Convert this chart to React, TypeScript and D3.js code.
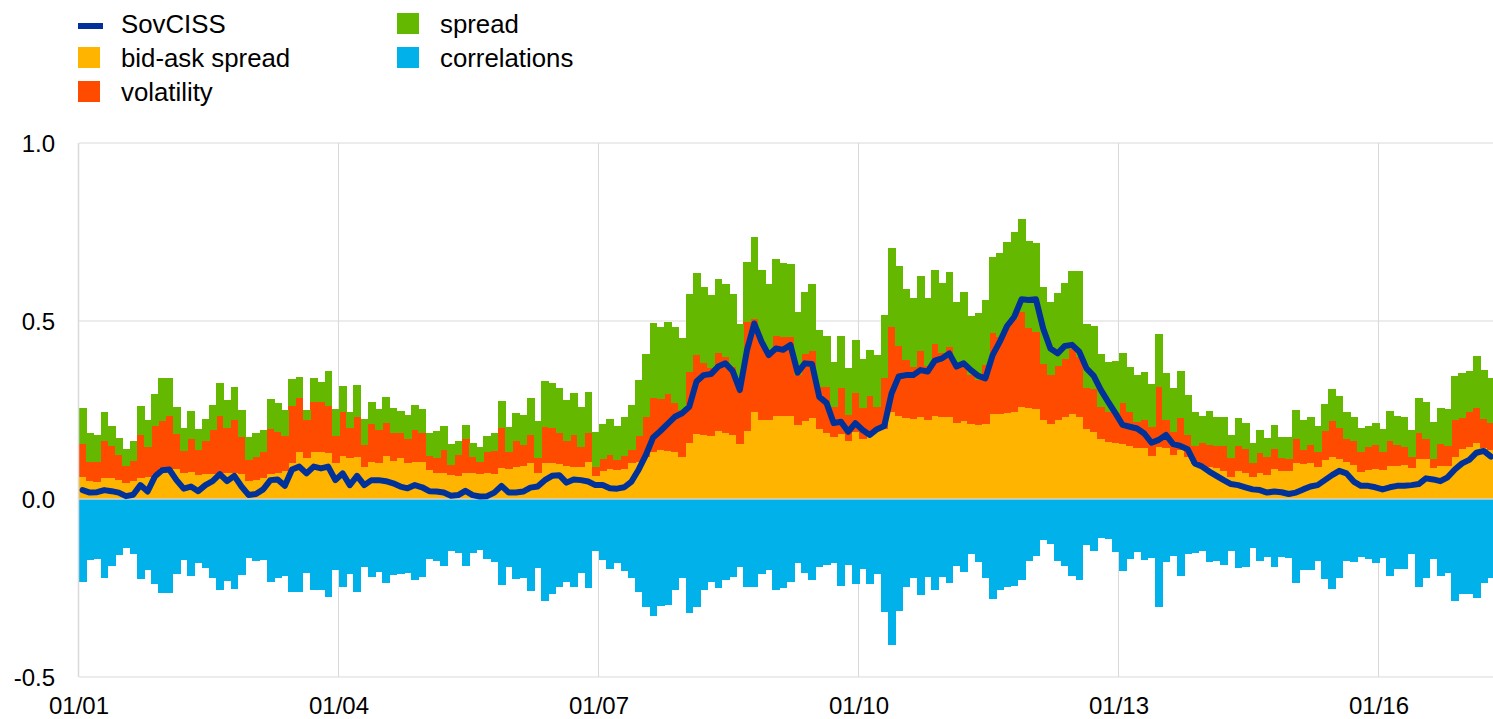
import React from "react";
import * as d3 from "d3";

// x-axis ticks (month index from Jan 2001) and labels
const tickMonths = [0, 36, 72, 108, 144, 180];
const tickLabels = ["01/01", "01/04", "01/07", "01/10", "01/13", "01/16"];
const yTicks = [-0.5, 0, 0.5, 1.0];
const yTickLabels = ["-0.5", "0.0", "0.5", "1.0"];

// monthly series, Jan 2001 - Apr 2017
const bidAsk = [
  0.061, 0.05, 0.049, 0.06, 0.06, 0.053, 0.046, 0.05, 0.058, 0.063, 0.071, 0.086,
  0.083, 0.083, 0.072, 0.077, 0.067, 0.069, 0.07, 0.074, 0.074, 0.072, 0.07, 0.05,
  0.053, 0.058, 0.07, 0.074, 0.079, 0.1, 0.133, 0.116, 0.133, 0.133, 0.128, 0.1,
  0.122, 0.114, 0.117, 0.091, 0.104, 0.1, 0.122, 0.108, 0.114, 0.1, 0.103, 0.103,
  0.081, 0.072, 0.074, 0.067, 0.066, 0.074, 0.072, 0.069, 0.072, 0.07, 0.086, 0.083,
  0.091, 0.093, 0.1, 0.072, 0.1, 0.1, 0.097, 0.094, 0.091, 0.091, 0.105, 0.065,
  0.079, 0.083, 0.081, 0.084, 0.1, 0.105, 0.119, 0.133, 0.138, 0.136, 0.133, 0.117,
  0.158, 0.183, 0.18, 0.178, 0.191, 0.186, 0.18, 0.154, 0.191, 0.243, 0.222, 0.222,
  0.233, 0.233, 0.233, 0.208, 0.22, 0.227, 0.198, 0.186, 0.173, 0.182, 0.164, 0.187,
  0.168, 0.192, 0.194, 0.196, 0.245, 0.233, 0.227, 0.224, 0.231, 0.222, 0.234, 0.231,
  0.229, 0.214, 0.218, 0.21, 0.208, 0.21, 0.238, 0.238, 0.241, 0.245, 0.259, 0.257,
  0.252, 0.222, 0.211, 0.222, 0.229, 0.238, 0.231, 0.196, 0.189, 0.168, 0.161, 0.156,
  0.154, 0.15, 0.142, 0.142, 0.121, 0.147, 0.142, 0.125, 0.138, 0.119, 0.097, 0.086,
  0.091, 0.086, 0.08, 0.063, 0.08, 0.072, 0.063, 0.074, 0.067, 0.083, 0.079, 0.079,
  0.102, 0.098, 0.1, 0.091, 0.11, 0.119, 0.112, 0.105, 0.096, 0.077, 0.081, 0.083,
  0.081, 0.093, 0.094, 0.096, 0.088, 0.112, 0.112, 0.086, 0.094, 0.094, 0.119, 0.14,
  0.147, 0.156, 0.142, 0.138,
];

const volatility = [
  0.094, 0.055, 0.056, 0.104, 0.089, 0.071, 0.047, 0.058, 0.123, 0.084, 0.134, 0.134,
  0.151, 0.099, 0.064, 0.091, 0.071, 0.095, 0.124, 0.159, 0.125, 0.15, 0.103, 0.06,
  0.066, 0.075, 0.126, 0.113, 0.098, 0.161, 0.152, 0.106, 0.14, 0.14, 0.133, 0.077,
  0.121, 0.085, 0.113, 0.061, 0.107, 0.094, 0.091, 0.078, 0.072, 0.069, 0.091, 0.081,
  0.041, 0.042, 0.064, 0.029, 0.058, 0.094, 0.047, 0.036, 0.061, 0.066, 0.113, 0.05,
  0.072, 0.059, 0.079, 0.042, 0.103, 0.1, 0.089, 0.07, 0.089, 0.056, 0.079, 0.026,
  0.032, 0.041, 0.029, 0.037, 0.038, 0.073, 0.11, 0.152, 0.142, 0.158, 0.136, 0.133,
  0.2, 0.221, 0.203, 0.189, 0.22, 0.214, 0.192, 0.176, 0.305, 0.262, 0.22, 0.185,
  0.226, 0.223, 0.221, 0.14, 0.187, 0.19, 0.118, 0.128, 0.086, 0.129, 0.072, 0.112,
  0.087, 0.097, 0.065, 0.145, 0.239, 0.198, 0.163, 0.148, 0.185, 0.152, 0.2, 0.178,
  0.199, 0.158, 0.163, 0.138, 0.126, 0.166, 0.227, 0.218, 0.243, 0.262, 0.267, 0.222,
  0.218, 0.157, 0.137, 0.152, 0.163, 0.182, 0.169, 0.116, 0.121, 0.091, 0.082, 0.085,
  0.117, 0.094, 0.075, 0.079, 0.08, 0.169, 0.079, 0.064, 0.09, 0.061, 0.052, 0.072,
  0.061, 0.064, 0.07, 0.051, 0.069, 0.068, 0.037, 0.056, 0.052, 0.057, 0.035, 0.033,
  0.067, 0.04, 0.052, 0.042, 0.081, 0.101, 0.088, 0.064, 0.068, 0.056, 0.064, 0.069,
  0.052, 0.071, 0.058, 0.051, 0.031, 0.072, 0.057, 0.025, 0.06, 0.056, 0.103, 0.088,
  0.096, 0.101, 0.083, 0.075,
];

const spread = [
  0.102, 0.079, 0.075, 0.081, 0.056, 0.047, 0.048, 0.056, 0.08, 0.075, 0.089, 0.119,
  0.107, 0.077, 0.063, 0.078, 0.06, 0.062, 0.069, 0.092, 0.079, 0.092, 0.077, 0.063,
  0.067, 0.061, 0.085, 0.084, 0.073, 0.076, 0.059, 0.028, 0.068, 0.057, 0.099, 0.076,
  0.074, 0.046, 0.089, 0.073, 0.061, 0.058, 0.073, 0.071, 0.062, 0.067, 0.07, 0.069,
  0.064, 0.078, 0.067, 0.058, 0.04, 0.04, 0.039, 0.04, 0.044, 0.05, 0.076, 0.07,
  0.078, 0.083, 0.106, 0.105, 0.129, 0.127, 0.125, 0.114, 0.119, 0.112, 0.116, 0.096,
  0.1, 0.101, 0.095, 0.11, 0.126, 0.156, 0.178, 0.208, 0.204, 0.203, 0.213, 0.203,
  0.218, 0.23, 0.213, 0.206, 0.207, 0.204, 0.204, 0.162, 0.169, 0.23, 0.201, 0.196,
  0.215, 0.208, 0.206, 0.178, 0.175, 0.186, 0.159, 0.144, 0.127, 0.148, 0.133, 0.148,
  0.137, 0.13, 0.145, 0.176, 0.22, 0.223, 0.2, 0.194, 0.21, 0.192, 0.209, 0.199,
  0.211, 0.182, 0.201, 0.166, 0.189, 0.183, 0.216, 0.234, 0.239, 0.242, 0.261, 0.247,
  0.248, 0.217, 0.206, 0.206, 0.216, 0.22, 0.241, 0.18, 0.177, 0.147, 0.143, 0.148,
  0.138, 0.126, 0.131, 0.135, 0.121, 0.147, 0.132, 0.122, 0.132, 0.112, 0.094, 0.075,
  0.095, 0.079, 0.079, 0.066, 0.079, 0.073, 0.058, 0.064, 0.053, 0.068, 0.061, 0.061,
  0.082, 0.083, 0.077, 0.073, 0.075, 0.089, 0.088, 0.074, 0.067, 0.066, 0.06, 0.061,
  0.063, 0.084, 0.081, 0.084, 0.075, 0.101, 0.103, 0.104, 0.103, 0.103, 0.124, 0.125,
  0.117, 0.145, 0.137, 0.126,
];

const correlations = [
  -0.232, -0.17, -0.168, -0.223, -0.187, -0.157, -0.137, -0.155, -0.226, -0.2, -0.239, -0.265,
  -0.265, -0.21, -0.172, -0.216, -0.179, -0.195, -0.221, -0.257, -0.229, -0.253, -0.213, -0.167,
  -0.174, -0.171, -0.232, -0.221, -0.216, -0.262, -0.262, -0.207, -0.256, -0.256, -0.274, -0.2,
  -0.248, -0.212, -0.26, -0.19, -0.218, -0.204, -0.237, -0.213, -0.212, -0.209, -0.228, -0.22,
  -0.169, -0.173, -0.187, -0.145, -0.153, -0.187, -0.151, -0.143, -0.169, -0.176, -0.242, -0.19,
  -0.225, -0.223, -0.258, -0.195, -0.287, -0.268, -0.248, -0.234, -0.246, -0.209, -0.251, -0.146,
  -0.171, -0.198, -0.179, -0.201, -0.223, -0.262, -0.304, -0.329, -0.301, -0.298, -0.256, -0.221,
  -0.321, -0.302, -0.256, -0.232, -0.251, -0.228, -0.218, -0.19, -0.248, -0.248, -0.211, -0.2,
  -0.256, -0.249, -0.234, -0.179, -0.209, -0.228, -0.19, -0.185, -0.181, -0.244, -0.184, -0.239,
  -0.198, -0.239, -0.211, -0.318, -0.41, -0.315, -0.246, -0.223, -0.27, -0.218, -0.257, -0.22,
  -0.237, -0.188, -0.206, -0.155, -0.176, -0.221, -0.282, -0.256, -0.246, -0.243, -0.228, -0.173,
  -0.16, -0.115, -0.125, -0.173, -0.187, -0.216, -0.228, -0.129, -0.145, -0.109, -0.113, -0.148,
  -0.202, -0.169, -0.148, -0.171, -0.167, -0.304, -0.178, -0.16, -0.215, -0.155, -0.151, -0.146,
  -0.178, -0.174, -0.184, -0.146, -0.193, -0.19, -0.139, -0.174, -0.162, -0.19, -0.164, -0.167,
  -0.237, -0.2, -0.2, -0.174, -0.225, -0.254, -0.221, -0.173, -0.176, -0.162, -0.169, -0.179,
  -0.167, -0.216, -0.198, -0.198, -0.155, -0.248, -0.221, -0.169, -0.215, -0.209, -0.287, -0.268,
  -0.267, -0.279, -0.235, -0.223,
];

const sovciss = [
  0.025, 0.018, 0.019, 0.025, 0.022, 0.018, 0.008, 0.012, 0.039, 0.021, 0.063, 0.081,
  0.083, 0.053, 0.029, 0.035, 0.022, 0.039, 0.05, 0.07, 0.05, 0.065, 0.035, 0.011,
  0.014, 0.027, 0.053, 0.055, 0.037, 0.083, 0.091, 0.072, 0.091, 0.086, 0.091, 0.053,
  0.072, 0.039, 0.065, 0.039, 0.053, 0.053, 0.05, 0.044, 0.035, 0.03, 0.039, 0.033,
  0.022, 0.021, 0.018, 0.009, 0.011, 0.023, 0.011, 0.007, 0.008, 0.018, 0.037, 0.018,
  0.018, 0.021, 0.032, 0.035, 0.053, 0.065, 0.067, 0.046, 0.055, 0.053, 0.049, 0.039,
  0.039, 0.03, 0.029, 0.033, 0.049, 0.083, 0.124, 0.173, 0.191, 0.211, 0.231, 0.241,
  0.259, 0.33, 0.348, 0.351, 0.372, 0.381, 0.36, 0.306, 0.419, 0.493, 0.442, 0.404,
  0.423, 0.419, 0.433, 0.355, 0.381, 0.379, 0.287, 0.27, 0.213, 0.217, 0.189, 0.213,
  0.194, 0.18, 0.196, 0.205, 0.296, 0.344, 0.348, 0.348, 0.362, 0.358, 0.389, 0.395,
  0.409, 0.372, 0.381, 0.362, 0.346, 0.339, 0.404, 0.442, 0.486, 0.512, 0.561, 0.559,
  0.561, 0.479, 0.423, 0.409, 0.43, 0.433, 0.414, 0.367, 0.346, 0.306, 0.273, 0.241,
  0.208, 0.203, 0.198, 0.184, 0.158, 0.166, 0.18, 0.154, 0.149, 0.14, 0.1, 0.091,
  0.077, 0.065, 0.053, 0.042, 0.039, 0.033, 0.027, 0.025, 0.018, 0.021, 0.019, 0.014,
  0.018, 0.027, 0.035, 0.039, 0.053, 0.067, 0.079, 0.072, 0.049, 0.037, 0.037, 0.033,
  0.027, 0.033, 0.037, 0.037, 0.039, 0.042, 0.058, 0.055, 0.05, 0.061, 0.083, 0.1,
  0.11, 0.13, 0.135, 0.119,
];

const stackKeys = ["bidAsk", "volatility", "spread"];
const colors: Record<string, string> = {
  sovciss: "#003299",
  bidAsk: "#FFB400",
  volatility: "#FF4B00",
  spread: "#65B800",
  correlations: "#00B1EA",
};

const FONT = "'Liberation Sans', Arial, Helvetica, sans-serif";

export default function App() {
  const W = 1493;
  const H = 719;
  const n = bidAsk.length;
  const idx = d3.range(n);

  const x = d3
    .scaleBand<number>()
    .domain(idx)
    .range([79, 79 + 7.2222 * n])
    .paddingInner(0)
    .paddingOuter(0);
  const bw = x.bandwidth();
  const y = d3.scaleLinear().domain([-0.5, 1.0]).range([677, 143]);

  const rows = idx.map((i) => ({
    bidAsk: bidAsk[i],
    volatility: volatility[i],
    spread: spread[i],
  }));
  const stacked = d3.stack<any>().keys(stackKeys)(rows);

  const line = d3
    .line<number>()
    .x((i) => (x(i) as number) + bw / 2)
    .y((i) => y(sovciss[i]));

  const grid = "#d9d9d9";
  const left = 79;
  const right = W;

  const legendRows = [
    { key: "sovciss", label: "SovCISS", col: 0, row: 0, dash: true },
    { key: "bidAsk", label: "bid-ask spread", col: 0, row: 1 },
    { key: "volatility", label: "volatility", col: 0, row: 2 },
    { key: "spread", label: "spread", col: 1, row: 0 },
    { key: "correlations", label: "correlations", col: 1, row: 1 },
  ];
  const colX = [78, 397];
  const rowY = [23.5, 57.5, 91.5];

  return (
    <div style={{ position: "absolute", left: 0, top: 0, width: W, height: H, background: "#fff" }}>
      <svg width={W} height={H} style={{ display: "block" }} fontFamily={FONT}>
        <rect x={0} y={0} width={W} height={H} fill="#fff" />
        {/* vertical grid lines */}
        {tickMonths.map((m) => (
          <line
            key={"vg" + m}
            x1={(x(m) as number) - 0.5}
            x2={(x(m) as number) - 0.5}
            y1={y(1.0)}
            y2={y(-0.5)}
            stroke={grid}
            strokeWidth={1}
          />
        ))}
        {/* horizontal grid lines */}
        {[1.0, 0.5, -0.5].map((v) => (
          <line
            key={"hg" + v}
            x1={left}
            x2={right}
            y1={y(v)}
            y2={y(v)}
            stroke={grid}
            strokeWidth={1}
          />
        ))}
        {/* stacked positive bars */}
        {stacked.map((layer) => (
          <g key={layer.key} fill={colors[layer.key]} shapeRendering="crispEdges">
            {layer.map((d, i) => (
              <rect
                key={i}
                x={x(i) as number}
                width={bw + 0.6}
                y={y(d[1])}
                height={Math.max(0, y(d[0]) - y(d[1]))}
              />
            ))}
          </g>
        ))}
        {/* correlations (negative) */}
        <g fill={colors.correlations} shapeRendering="crispEdges">
          {idx.map((i) => (
            <rect
              key={i}
              x={x(i) as number}
              width={bw + 0.6}
              y={y(0)}
              height={y(correlations[i]) - y(0)}
            />
          ))}
        </g>
        {/* zero line */}
        <line x1={left} x2={right} y1={y(0)} y2={y(0)} stroke="#d0d0d0" strokeWidth={1.5} />
        {/* left axis line */}
        <line x1={left - 0.5} x2={left - 0.5} y1={y(1.0)} y2={y(-0.5)} stroke={grid} strokeWidth={1.5} />
        {/* SovCISS line */}
        <path
          d={line(idx) || ""}
          fill="none"
          stroke={colors.sovciss}
          strokeWidth={6}
          strokeLinejoin="round"
          strokeLinecap="round"
        />
        {/* y-axis labels */}
        {yTicks.map((v, k) => (
          <text
            key={"yl" + v}
            x={55}
            y={y(v)}
            textAnchor="end"
            dominantBaseline="central"
            fontSize={24}
            fill="#000"
          >
            {yTickLabels[k]}
          </text>
        ))}
        {/* x-axis labels */}
        {tickMonths.map((m, k) => (
          <text key={"xl" + m} x={x(m) as number} y={714} textAnchor="middle" fontSize={24} fill="#000">
            {tickLabels[k]}
          </text>
        ))}
        {/* legend */}
        {legendRows.map((r) => {
          const lx = colX[r.col];
          const cy = rowY[r.row];
          return (
            <g key={r.key}>
              {r.dash ? (
                <rect x={lx} y={cy - 0.5} width={25} height={6} fill={colors[r.key]} />
              ) : (
                <rect x={lx} y={cy - 10.5} width={22} height={21} fill={colors[r.key]} />
              )}
              <text x={lx + 43} y={cy + 9} fontSize={25.8} fill="#000">
                {r.label}
              </text>
            </g>
          );
        })}
      </svg>
    </div>
  );
}
